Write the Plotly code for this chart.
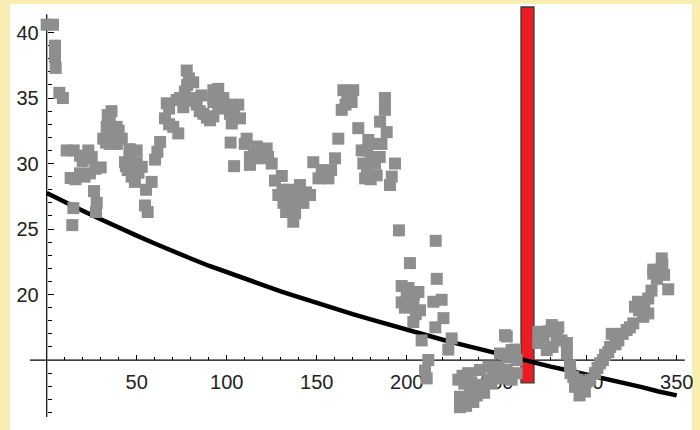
import plotly.graph_objects as go

# ---- data ----
fit_x = list(range(0, 351, 10))
fit_y = [27.75, 27.05, 26.4, 25.75, 25.1, 24.5, 23.9, 23.3, 22.75, 22.2,
         21.7, 21.2, 20.7, 20.25, 19.8, 19.35, 18.9, 18.5, 18.1, 17.7,
         17.3, 16.9, 16.55, 16.2, 15.85, 15.5, 15.15, 14.8, 14.5, 14.2,
         13.9, 13.6, 13.3, 12.95, 12.6, 12.3]

gray_points = [
    (0, 40.6), (3.5, 40.6), (4.6, 39.0), (4.6, 38.15), (5, 37.3), (7, 35.4), (9, 35.0),
    (11.1, 31.0), (18.5, 30.6), (23.1, 31.0), (20, 30.2), (30, 29.7), (13.3, 28.9),
    (18.5, 29.25), (24, 29.25), (26.3, 27.9), (27.8, 27.0), (27.4, 26.3), (14.8, 26.6), (14.2, 25.3),
    (15, 31.0), (21, 30.4), (16, 28.8), (21, 29.0), (25, 30.5), (27, 29.6),
    (33.9, 33.7), (33.3, 32.8), (38.9, 32.8), (31.4, 31.9), (37.9, 31.9), (41.7, 31.9), (36, 32.3),
    (35, 33.2), (40, 32.5), (33, 31.6), (39, 31.5), (35, 31.5), (36, 34.0),
    (50, 31.0), (43.5, 30.1), (50, 30.1), (52.8, 29.75), (47.2, 29.0), (45, 29.5), (60.2, 30.3),
    (46, 30.5), (48, 29.5), (51, 29.3), (44, 29.8), (49, 28.6), (46, 31.1),
    (58.3, 28.6), (55.2, 28.0), (54.6, 26.8), (56.1, 26.3), (63, 31.65), (65.7, 33.45),
    (70.3, 32.8), (73.1, 32.3), (68, 33.0), (61.5, 30.9),
    (66.7, 34.6), (72.2, 34.85), (76.8, 35.5), (77.8, 37.1), (81.4, 36.2), (75.9, 34.3),
    (83.3, 34.5), (87, 33.8), (90.7, 33.3), (92.6, 35.6), (92.6, 34.7), (79, 36.5),
    (68, 34.2), (74, 35.0), (80, 35.0), (85, 34.0), (89, 33.5), (78, 36.0), (82, 34.8), (86, 35.2),
    (95.3, 35.7), (92.6, 35.0), (98.1, 35.0), (92.6, 33.6), (95.3, 34.4), (106.4, 34.5),
    (101.8, 33.8), (107.4, 33.45), (102.8, 33.06), (102.2, 31.6), (104.1, 29.8),
    (100, 34.5), (104, 34.0), (97, 34.2),
    (111.1, 31.9), (116.7, 31.3), (122.2, 31.15), (112.9, 30.5), (118.5, 30.4), (125, 30.0),
    (112.9, 29.9), (126.8, 28.7), (130.6, 29.05),
    (115, 30.8), (120, 30.8), (123, 30.5), (110, 31.5),
    (128.7, 27.6), (134.2, 27.5), (140.7, 28.36), (146.3, 27.6), (137, 26.7), (142.6, 27.0),
    (137, 25.56), (131.5, 27.0), (138, 27.8),
    (133, 26.3), (140, 27.3), (135, 28.0), (144, 27.8), (138, 26.2), (131, 28.0),
    (148.1, 30.1), (152.8, 29.5), (156.5, 28.87), (151, 28.87), (160.2, 30.4), (162, 31.9),
    (154, 29.2), (158, 29.5),
    (164.8, 35.6), (170.3, 35.6), (163.9, 34.1), (169.4, 34.7), (167, 35.0),
    (166, 34.5), (168, 35.3),
    (173.1, 32.7), (178.7, 31.8), (185.2, 33.2), (188.9, 32.4), (175, 31.0), (187.9, 35.0), (187.9, 34.1),
    (175.9, 30.0), (182.4, 30.0), (176.9, 28.87), (183.3, 29.1), (193.5, 30.0), (191.7, 29.0),
    (190.7, 28.36), (180, 30.5),
    (178, 31.0), (181, 31.5), (185, 30.5), (178, 29.5), (180, 28.8), (186, 31.5),
    (195.7, 24.9), (216.1, 24.1), (201.8, 22.4), (216.7, 21.2),
    (197.2, 20.65), (206.5, 20.2), (200, 19.8), (203.7, 19.2), (207.4, 18.8), (197.2, 19.4),
    (219.4, 19.6), (214.8, 19.45), (220.4, 18.2), (215.9, 17.5), (203.7, 17.9), (208.3, 16.5),
    (225, 16.65), (223.1, 15.8),
    (201, 20.5), (204, 20.0), (199, 19.0), (205, 18.5),
    (212, 15.0), (210.2, 14.2), (211.1, 13.6),
    (228.7, 13.5), (234.2, 14.0), (240.7, 14.24), (229.6, 12.2), (229.6, 11.4), (235.2, 12.7),
    (242.6, 13.1), (245.4, 14.5), (238.9, 12.3), (245.4, 13.5), (232, 13.2),
    (232, 12.0), (236, 13.3), (240, 13.0), (243, 12.5), (231, 13.8), (237, 11.8), (233, 11.5),
    (248, 14.0), (247, 13.2),
    (255.6, 16.8), (251.8, 15.5), (258.3, 15.76), (250.9, 14.5), (255.6, 14.24), (258.3, 13.5),
    (261.1, 15.0), (261.1, 14.0), (254.6, 16.9), (260.2, 15.8), (253, 13.6), (256, 15.2),
    (273.1, 17.16), (273.1, 16.3), (280.6, 17.67), (284.2, 17.5), (283.3, 16.8), (289, 16.3),
    (289, 15.5), (277.8, 15.76),
    (276, 16.7), (279, 17.2), (286, 16.5), (281, 16.0),
    (290.7, 14.6), (292.6, 13.7), (293.5, 12.96), (299, 12.6), (300, 13.35), (304.6, 14.0),
    (307.4, 14.75), (310.2, 15.4), (313, 16.0), (313.9, 17.0), (317.6, 16.5), (322.2, 17.3),
    (325.9, 17.8), (326.8, 19.07), (328.5, 19.45), (334.2, 19.7), (334.2, 18.56), (331.4, 18.3),
    (337, 21.9), (341.7, 22.76), (340.7, 21.9), (345.3, 20.4), (337, 21.6), (296, 12.3),
    (295, 13.5), (297, 12.8), (291, 14.0),
    (302, 13.5), (306, 14.4), (309, 15.0), (312, 15.6), (316, 16.2), (320, 17.0), (324, 17.5),
    (329, 18.8), (332, 19.1), (336, 20.3), (339, 21.2), (342, 22.3), (343, 21.5),
]
gray_x = [p[0] for p in gray_points]
gray_y = [p[1] for p in gray_points]

bar_x = [267.1]
bar_width = [7.2]
bar_base = [13.25]
bar_top = [41.95]

x_major = [50, 100, 150, 200, 250, 300, 350]
x_minor = [v for v in range(10, 351, 10) if v not in x_major]
y_major = [20, 25, 30, 35, 40]
y_minor = [v for v in range(11, 42) if v not in y_major and v != 15]

x_range = [-20.39, 358.5]
y_range = [9.66, 42.18]
x_cross = 15
y_cross = 0

# ---- figure ----
fig = go.Figure()
fig.add_trace(go.Scatter(x=fit_x, y=fit_y, mode="lines",
                         line=dict(color="black", width=4.5), hoverinfo="skip"))
fig.add_trace(go.Scatter(x=gray_x, y=gray_y, mode="markers",
                         marker=dict(symbol="square", size=12, color="#8e8e8e",
                                     line=dict(width=0))))
fig.add_trace(go.Bar(x=bar_x, y=[t - b for t, b in zip(bar_top, bar_base)], base=bar_base,
                     width=bar_width, marker=dict(color="#ed1c24",
                                                  line=dict(color="#3a3a3a", width=1.3))))

xpos = (x_cross - y_range[0]) / (y_range[1] - y_range[0])
ypos = (y_cross - x_range[0]) / (x_range[1] - x_range[0])
font = dict(family="Liberation Sans, Arial, sans-serif", size=20, color="#222222")

fig.update_layout(
    width=700, height=430,
    margin=dict(l=10, r=8, t=4, b=0),
    paper_bgcolor="#f8edb2", plot_bgcolor="white",
    showlegend=False,
    xaxis=dict(range=x_range, anchor="free", position=xpos, showgrid=False, zeroline=False,
               showline=False, tickvals=x_major, ticks="inside", ticklen=5, tickwidth=1,
               tickcolor="black", tickfont=font, layer="below traces", ticklabelstandoff=8,
               minor=dict(tickvals=x_minor, ticks="inside", ticklen=3, tickwidth=1,
                          tickcolor="black")),
    yaxis=dict(range=y_range, anchor="free", position=ypos, showgrid=False, zeroline=False,
               showline=False, tickvals=y_major, ticks="inside", ticklen=6, tickwidth=1,
               tickcolor="black", tickfont=font, layer="below traces", ticklabelstandoff=8,
               minor=dict(tickvals=y_minor, ticks="inside", ticklen=4, tickwidth=1,
                          tickcolor="black")),
    shapes=[
        dict(type="line", xref="x", yref="y", x0=-9.3, x1=354.5, y0=x_cross, y1=x_cross,
             line=dict(color="black", width=1.2), layer="below"),
        dict(type="line", xref="x", yref="y", x0=y_cross, x1=y_cross, y0=10.65, y1=41.4,
             line=dict(color="black", width=1.2), layer="below"),
    ],
)
fig.write_html("out.html")
